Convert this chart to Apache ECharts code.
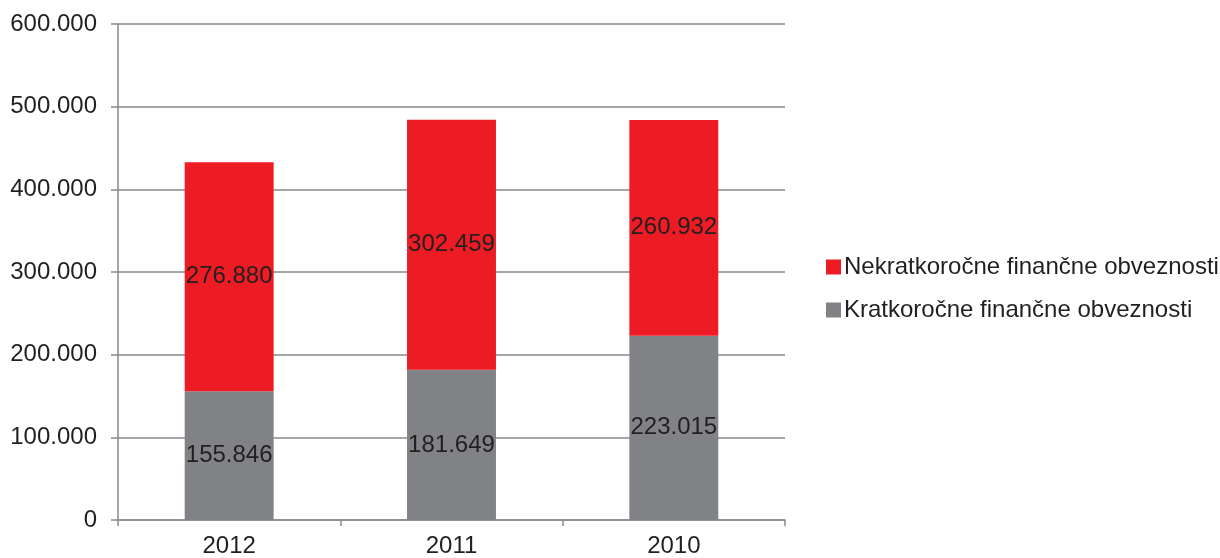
<!DOCTYPE html>
<html>
<head>
<meta charset="utf-8">
<script src="https://cdn.jsdelivr.net/npm/echarts@6/dist/echarts.min.js"></script>
<style>
  html, body { margin: 0; padding: 0; background: #fff; }
  #chart { width: 1220px; height: 558px; }
</style>
</head>
<body>
<div id="chart"></div>
<script>
var years = ['2012', '2011', '2010']
var kratkorocne = [155846, 181649, 223015]
var nekratkorocne = [276880, 302459, 260932]
var seriesNames = ['Nekratkoročne finančne obveznosti', 'Kratkoročne finančne obveznosti']

var textColor = '#231f20'
var lineColor = '#898989'
var font = 'Liberation Sans, Arial, sans-serif'

// 155846 -> "155.846"
function fmt(v) {
  return String(v).replace(/\B(?=(\d{3})+(?!\d))/g, '.')
}

var chart = echarts.init(document.getElementById('chart'))

var option = {
  animation: false,
  textStyle: { fontFamily: font },
  grid: {
    left: 118,
    right: 435,
    top: 24,
    bottom: 36,
    containLabel: false,
  },
  legend: {
    orient: 'vertical',
    left: 821,
    top: 250,
    itemWidth: 15,
    itemHeight: 15,
    itemGap: 19,
    icon: 'rect',
    textStyle: { fontSize: 24, color: textColor, fontFamily: font, padding: [0, 0, 0, -2] },
    data: seriesNames,
  },
  xAxis: {
    type: 'category',
    data: years,
    axisLine: { lineStyle: { color: lineColor, width: 1.5 } },
    axisTick: { show: true, length: 6, alignWithLabel: false, lineStyle: { color: lineColor, width: 1.5 } },
    axisLabel: { color: textColor, fontSize: 24, margin: 14 },
  },
  yAxis: {
    type: 'value',
    min: 0,
    max: 600000,
    interval: 100000,
    axisLine: { show: true, lineStyle: { color: lineColor, width: 1.5 } },
    axisTick: { show: true, length: 7, lineStyle: { color: lineColor, width: 1.5 } },
    splitLine: { lineStyle: { color: lineColor, width: 1.5 } },
    axisLabel: { color: textColor, fontSize: 24, margin: 21, formatter: fmt },
  },
  series: [
    {
      name: seriesNames[1],
      type: 'bar',
      stack: 'total',
      barWidth: '40%',
      data: kratkorocne,
      itemStyle: { color: '#808285' },
      label: { show: true, position: 'inside', color: textColor, fontSize: 24, formatter: function(p) { return fmt(p.value) } },
    },
    {
      name: seriesNames[0],
      type: 'bar',
      stack: 'total',
      barWidth: '40%',
      data: nekratkorocne,
      itemStyle: { color: '#ed1c24' },
      label: { show: true, position: 'inside', color: textColor, fontSize: 24, formatter: function(p) { return fmt(p.value) } },
    },
  ],
}

chart.setOption(option)
</script>
</body>
</html>
